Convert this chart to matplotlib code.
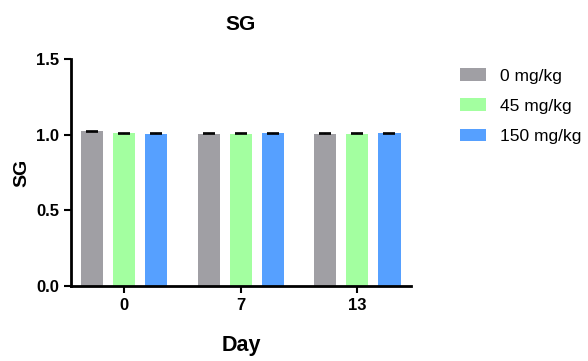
import matplotlib
matplotlib.use("Agg")
import matplotlib.pyplot as plt
import numpy as np

plt.rcParams['font.family'] = ['Liberation Sans', 'DejaVu Sans']

days = ["0", "7", "13"]
groups = ["0 mg/kg", "45 mg/kg", "150 mg/kg"]
means = {
    "0 mg/kg":   [1.022, 1.006, 1.006],
    "45 mg/kg":  [1.008, 1.006, 1.005],
    "150 mg/kg": [1.005, 1.008, 1.008],
}
errs = {
    "0 mg/kg":   [0.004, 0.003, 0.003],
    "45 mg/kg":  [0.004, 0.003, 0.003],
    "150 mg/kg": [0.003, 0.006, 0.004],
}
colors = ["#A09FA4", "#A3FFA0", "#56A0FF"]

fig = plt.figure(figsize=(5.88, 3.61), dpi=100)
ax = fig.add_axes([0.1207, 0.2078, 0.699 - 0.1207, 0.8366 - 0.2078])

x = np.arange(len(days))
offset = 0.275
width = 0.19
for i, (g, c) in enumerate(zip(groups, colors)):
    ax.bar(x + (i - 1) * offset, means[g], width, color=c, label=g,
           yerr=errs[g], error_kw=dict(ecolor="black", elinewidth=1.2,
                                       capsize=4, capthick=1.2))

ax.set_xlim(-0.455, 2.46)
ax.set_ylim(0, 1.5)
ax.set_yticks([0, 0.5, 1.0, 1.5])
ax.set_yticklabels(["0.0", "0.5", "1.0", "1.5"])
ax.set_xticks(x)
ax.set_xticklabels(days)

for s in ["top", "right"]:
    ax.spines[s].set_visible(False)
for s in ["left", "bottom"]:
    ax.spines[s].set_linewidth(2)
ax.tick_params(axis="both", width=1.5, length=5, labelsize=12)
for lbl in ax.get_xticklabels() + ax.get_yticklabels():
    lbl.set_fontweight("bold")

ax.set_title("SG", fontsize=15, fontweight="bold", pad=21)
ax.set_ylabel("SG", fontsize=14, fontweight="bold", labelpad=4)
ax.set_xlabel("Day", fontsize=15.5, fontweight="bold", labelpad=16)

ax.legend(loc="upper left", bbox_to_anchor=(1.125, 0.99), borderaxespad=0,
          frameon=False, fontsize=12.5, handlelength=1.45, handleheight=0.75,
          labelspacing=0.85, handletextpad=0.8)

fig.savefig("out.png", dpi=100)
